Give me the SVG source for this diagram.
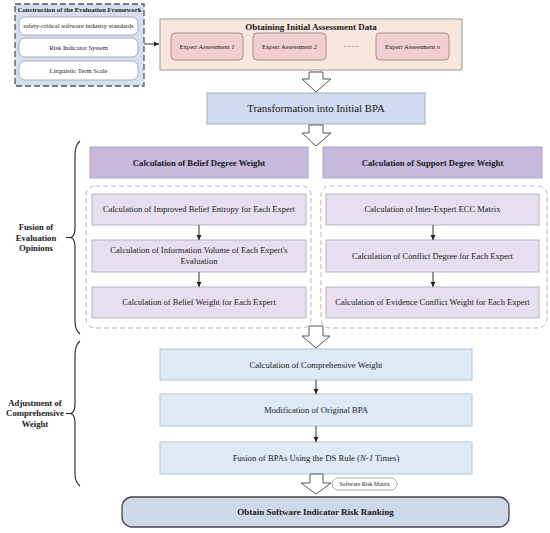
<svg xmlns="http://www.w3.org/2000/svg" width="550" height="533" viewBox="0 0 550 533">
<defs>
<style>
text{font-family:"Liberation Serif","Times New Roman",serif;fill:#1a1a1a;text-anchor:middle}
.b{font-weight:bold}
.purple{fill:#c6b9dc;stroke:#b0a6c4}
.lav{fill:#e6dfef;stroke:#b8b2c2}
.lblue{fill:#deebf7;stroke:#b8c2cc}
.hollow{fill:#fff;stroke:#555;stroke-width:1}
.thin{stroke:#333;stroke-width:1;fill:none}
.dashc{fill:none;stroke:#b5b5b5;stroke-width:1;stroke-dasharray:5,3}
.brace{fill:none;stroke:#222;stroke-width:1.1}
.fw{font-size:6.6px}
.ex{font-size:6.6px}
.in{font-size:8.5px}
.lb{font-size:8.7px}
.side{font-size:8.7px;font-weight:bold}
</style>
<marker id="ah" markerWidth="6" markerHeight="6" refX="5" refY="3" orient="auto" markerUnits="userSpaceOnUse">
<path d="M0,0.5 L5,3 L0,5.5 Z" fill="#222"/>
</marker>
</defs>

<g id="framework">
<rect x="15" y="4" width="129" height="82" fill="#d5dff0" stroke="#555" stroke-width="1.3" stroke-dasharray="6,3"/>
<text x="79.5" y="12" class="b" font-size="6.7">Construction of the Evaluation Framework</text>
<rect x="19" y="17" width="119" height="18" rx="6" fill="#fff" stroke="#aab"/>
<text x="78.5" y="28.3" class="fw">safety-critical software industry standards</text>
<rect x="19" y="38" width="119" height="19" rx="6" fill="#fff" stroke="#aab"/>
<text x="78.5" y="49.8" class="fw">Risk Indicator System</text>
<rect x="19" y="61" width="119" height="19" rx="6" fill="#fff" stroke="#aab"/>
<text x="78.5" y="72.8" class="fw">Linguistic Term Scale</text>
</g>

<g id="obtaining">
<rect x="160" y="19" width="302" height="51" fill="#f9e6dc" stroke="#999"/>
<text x="311" y="29.5" class="b" font-size="9">Obtaining Initial Assessment Data</text>
<g id="expert1"><rect x="171" y="33" width="72" height="27" rx="4" fill="#f1cfd0" stroke="#a89090"/>
<text x="207" y="48.8" class="ex">Expert Assessment <tspan font-style="italic">1</tspan></text></g>
<g id="expert2"><rect x="253" y="33" width="73" height="27" rx="4" fill="#f1cfd0" stroke="#a89090"/>
<text x="289.5" y="48.8" class="ex">Expert Assessment <tspan font-style="italic">2</tspan></text></g>
<text x="351" y="48.5" font-size="8">······</text>
<g id="expertn"><rect x="376" y="33" width="73" height="27" rx="4" fill="#f1cfd0" stroke="#a89090"/>
<text x="412.5" y="48.8" class="ex">Expert Assessment <tspan font-style="italic">n</tspan></text></g>
</g>

<g id="transform">
<rect x="207" y="93" width="218" height="31" fill="#cfdbee" stroke="#a8b0bc"/>
<text x="316" y="112.2" font-size="10.8">Transformation into Initial BPA</text>
</g>

<g id="beliefHeader">
<rect x="90" y="147" width="218" height="31" class="purple"/>
<text x="199" y="165.5" class="b lb">Calculation of Belief Degree Weight</text>
</g>
<g id="supportHeader">
<rect x="323" y="147" width="219" height="31" class="purple"/>
<text x="432.5" y="165.5" class="b lb">Calculation of Support Degree Weight</text>
</g>

<rect x="86" y="186" width="225" height="142" rx="9" class="dashc"/>
<rect x="321" y="186" width="226" height="142" rx="9" class="dashc"/>

<g id="b1"><rect x="92" y="194" width="214" height="31" class="lav"/>
<text x="199" y="212.4" class="in">Calculation of Improved Belief Entropy for Each Expert</text></g>
<g id="b2"><rect x="92" y="240" width="214" height="32" class="lav"/>
<text x="199" y="253.4" class="in">Calculation of Information Volume of Each Expert's</text>
<text x="199" y="264.4" class="in">Evaluation</text></g>
<g id="b3"><rect x="92" y="287" width="214" height="31" class="lav"/>
<text x="199" y="305.4" class="in">Calculation of Belief Weight for Each Expert</text></g>

<g id="s1"><rect x="326" y="194" width="213" height="31" class="lav"/>
<text x="432.5" y="212.4" class="in">Calculation of Inter-Expert ECC Matrix</text></g>
<g id="s2"><rect x="326" y="240" width="213" height="32" class="lav"/>
<text x="432.5" y="258.9" class="in">Calculation of Conflict Degree for Each Expert</text></g>
<g id="s3"><rect x="326" y="287" width="213" height="31" class="lav"/>
<text x="432.5" y="305.4" class="in">Calculation of Evidence Conflict Weight for Each Expert</text></g>

<g id="c1"><rect x="160" y="349" width="312" height="31" class="lblue"/>
<text x="316" y="367.5" class="lb">Calculation of Comprehensive Weight</text></g>
<g id="c2"><rect x="160" y="394" width="312" height="32" class="lblue"/>
<text x="316" y="413" class="lb">Modification of Original BPA</text></g>
<g id="c3"><rect x="160" y="442" width="312" height="32" class="lblue"/>
<text x="316" y="461" class="lb">Fusion of BPAs Using the DS Rule (<tspan font-style="italic">N-1</tspan> Times)</text></g>

<g id="final">
<rect x="122" y="497" width="387" height="30" rx="10" fill="#cdd8ea" stroke="#444" stroke-width="1.3"/>
<text x="315.5" y="515" class="b" font-size="9">Obtain Software Indicator Risk Ranking</text>
</g>

<g id="matrixLabel">
<rect x="332" y="478" width="65" height="12" rx="6" fill="#fff" stroke="#aaa"/>
<text x="364.5" y="486.2" font-size="5.8">Software Risk Matrix</text>
</g>

<g id="fusionLabel">
<text x="36" y="230" class="side">Fusion of</text>
<text x="36" y="240.5" class="side">Evaluation</text>
<text x="36" y="251" class="side">Opinions</text>
</g>
<g id="adjustLabel">
<text x="35" y="405.5" class="side">Adjustment of</text>
<text x="35" y="416" class="side">Comprehensive</text>
<text x="35" y="426.5" class="side">Weight</text>
</g>

<g id="connectors">
<line x1="144" y1="44" x2="159" y2="44" class="thin" marker-end="url(#ah)"/>
<path d="M309,72 H323 V79 H331 L316,92 L302,79 H309 Z" class="hollow"/>
<path d="M309,125 H323 V133 H331 L316,146 L302,133 H309 Z" class="hollow"/>
<path d="M309,326 H323 V336 H330 L316,348 L302,336 H309 Z" class="hollow"/>
<path d="M310,474 H323 V483 H331 L316,494 L301,483 H310 Z" class="hollow"/>
<line x1="199" y1="225" x2="199" y2="240" class="thin" marker-end="url(#ah)"/>
<line x1="199" y1="272" x2="199" y2="287" class="thin" marker-end="url(#ah)"/>
<line x1="433" y1="225" x2="433" y2="240" class="thin" marker-end="url(#ah)"/>
<line x1="433" y1="272" x2="433" y2="287" class="thin" marker-end="url(#ah)"/>
<line x1="316" y1="380" x2="316" y2="394" class="thin" marker-end="url(#ah)"/>
<line x1="316" y1="426" x2="316" y2="442" class="thin" marker-end="url(#ah)"/>
<path d="M80,141 Q75,145 75,155 V228 Q75,236 71,237.5 Q75,239 75,247 V321 Q75,330 80,334" class="brace"/>
<line x1="66" y1="237.5" x2="71" y2="237.5" class="brace"/>
<path d="M80,341 Q75,345 75,355 V404 Q75,412 71,413.5 Q75,415 75,423 V474 Q75,482 80,486" class="brace"/>
<line x1="66" y1="413.5" x2="71" y2="413.5" class="brace"/>
</g>
</svg>
